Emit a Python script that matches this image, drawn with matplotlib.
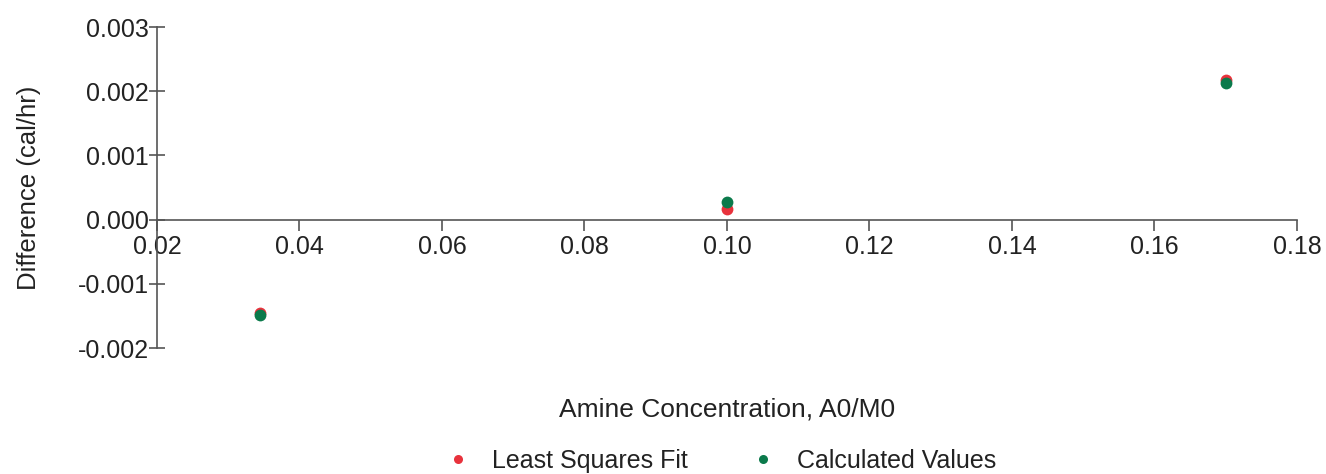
import matplotlib
matplotlib.use("Agg")
import matplotlib.pyplot as plt
from matplotlib.lines import Line2D

# Data
conc = [0.0345, 0.100, 0.170]
least_squares = [-0.00146, 0.00017, 0.00217]
calculated = [-0.00148, 0.00028, 0.00213]

x_ticks = [0.02, 0.04, 0.06, 0.08, 0.10, 0.12, 0.14, 0.16, 0.18]
x_tick_labels = ["0.02", "0.04", "0.06", "0.08", "0.10", "0.12", "0.14", "0.16", "0.18"]
y_ticks = [-0.002, -0.001, 0.000, 0.001, 0.002, 0.003]
y_tick_labels = ["-0.002", "-0.001", "0.000", "0.001", "0.002", "0.003"]

RED = "#e8323c"
GREEN = "#0b7a4b"
AXC = "#555555"
TXT = "#222222"
FS = 18

plt.rcParams['font.family'] = ['Liberation Sans', 'DejaVu Sans']

fig = plt.figure(figsize=(13.26, 4.74), dpi=100)
ax = fig.add_axes([0.1184, 0.2658, 0.8597, 0.6772])

ax.plot(conc, least_squares, 'o', color=RED, ms=8.5, mec='none', zorder=3)
ax.plot(conc, calculated, 'o', color=GREEN, ms=8.5, mec='none', zorder=4)

ax.set_xlim(0.02, 0.18)
ax.set_ylim(-0.002, 0.003)
ax.spines['top'].set_visible(False)
ax.spines['right'].set_visible(False)
ax.spines['bottom'].set_position(('data', 0))
for s in ('left', 'bottom'):
    ax.spines[s].set_color(AXC)
    ax.spines[s].set_linewidth(1.2)

ax.set_xticks(x_ticks)
ax.set_xticklabels(x_tick_labels)
ax.set_yticks(y_ticks)
ax.set_yticklabels(y_tick_labels)
ax.tick_params(axis='x', direction='out', length=8, width=1.2, color=AXC,
               labelsize=FS, labelcolor=TXT, pad=3)
ax.tick_params(axis='y', direction='inout', length=12, width=1.2, color=AXC,
               labelsize=FS, labelcolor=TXT, pad=0)

ax.set_ylabel("Difference (cal/hr)", fontsize=18.5, color=TXT)
ax.yaxis.set_label_coords(-0.102, 0.5)
ax.set_xlabel("Amine Concentration, A0/M0", fontsize=19, color=TXT)
ax.xaxis.set_label_coords(0.5, -0.154)

handles = [
    Line2D([], [], ls='none', marker='o', color=RED, mec='none', ms=6.5),
    Line2D([], [], ls='none', marker='o', color=GREEN, mec='none', ms=6.5),
]
fig.legend(handles, ["Least Squares Fit", "Calculated Values"], loc='center',
           bbox_to_anchor=(0.5437, 0.028), ncol=2, frameon=False, fontsize=FS,
           handletextpad=0.86, columnspacing=2.54, handlelength=1.0,
           labelcolor=TXT, borderpad=0.0)

fig.savefig("out.png", dpi=100)
